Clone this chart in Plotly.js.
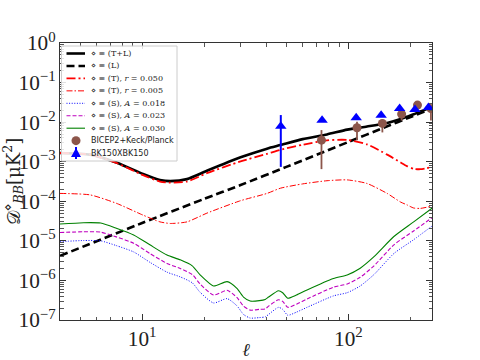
<!DOCTYPE html>
<html><head><meta charset="utf-8">
<script src="https://cdn.plot.ly/plotly-3.0.1.min.js"></script>
<style>html,body{margin:0;padding:0;background:#fff}#c{width:480px;height:360px}</style>
</head><body><div id="c"></div>
<script>
// ---- data ----
const ell_T = [4, 5.6, 7.5, 10.1, 12.2, 13.7, 16.5, 20.6, 30, 40.3, 46.8, 60, 78.7, 98.6, 123, 154, 179, 192, 207, 223, 255];
const D_total = [1.66e-3, 1.51e-3, 9.55e-4, 4.90e-4, 3.47e-4, 3.24e-4, 3.63e-4, 5.89e-4, 1.29e-3, 2.14e-3, 2.63e-3, 3.72e-3, 4.90e-3, 6.46e-3, 7.76e-3, 9.55e-3, 1.20e-2, 1.38e-2, 1.58e-2, 1.86e-2, 2.40e-2];
const D_T050 = [1.66e-3, 1.51e-3, 9.33e-4, 4.57e-4, 3.16e-4, 2.95e-4, 3.16e-4, 5.13e-4, 1.02e-3, 1.58e-3, 2.00e-3, 2.69e-3, 3.47e-3, 3.55e-3, 2.75e-3, 1.51e-3, 9.55e-4, 7.76e-4, 6.61e-4, 6.46e-4, 7.41e-4];
const D_T005 = [1.58e-4, 1.45e-4, 8.91e-5, 4.47e-5, 3.02e-5, 2.75e-5, 3.02e-5, 5.01e-5, 1.035e-4, 1.58e-4, 2.14e-4, 2.75e-4, 3.31e-4, 3.47e-4, 2.82e-4, 1.58e-4, 9.55e-5, 8.13e-5, 6.76e-5, 6.61e-5, 7.59e-5];

const ell_L = [4, 10, 20, 30, 50, 100, 150, 200, 255];
const D_lens = [4.17e-6, 2.82e-5, 1.15e-4, 2.57e-4, 7.41e-4, 3.16e-3, 7.41e-3, 1.35e-2, 2.24e-2];

const ell_S = [4, 5.2, 6.3, 7.5, 9.1, 10.9, 13.2, 15.3, 17.5, 19.1, 22.2, 25.8, 28.8, 31, 33.4, 37, 39.5, 41, 45.8, 48, 50.8, 56, 63, 84.6, 98.6, 114, 133, 166, 207, 255];
const D_A030 = [2.66e-5, 2.88e-5, 2.82e-5, 2.09e-5, 1.41e-5, 7.94e-6, 4.37e-6, 3.31e-6, 2.34e-6, 1.38e-6, 7.24e-7, 9.33e-7, 6.31e-7, 3.80e-7, 3.02e-7, 3.09e-7, 3.31e-7, 3.80e-7, 5.50e-7, 4.90e-7, 3.55e-7, 4.27e-7, 5.75e-7, 1.12e-6, 1.38e-6, 2.04e-6, 3.98e-6, 1.29e-5, 3.02e-5, 6.76e-5];
const D_A023 = [1.62e-5, 1.70e-5, 1.66e-5, 1.26e-5, 8.71e-6, 4.79e-6, 2.69e-6, 2.00e-6, 1.41e-6, 8.13e-7, 4.27e-7, 5.62e-7, 3.72e-7, 2.24e-7, 1.78e-7, 1.86e-7, 1.91e-7, 2.24e-7, 3.24e-7, 2.95e-7, 2.09e-7, 2.51e-7, 3.39e-7, 6.76e-7, 8.13e-7, 1.20e-6, 2.34e-6, 7.94e-6, 1.78e-5, 3.89e-5];
const D_A018 = [9.55e-6, 1.02e-5, 1.00e-5, 7.59e-6, 5.25e-6, 2.88e-6, 1.62e-6, 1.23e-6, 8.71e-7, 5.01e-7, 2.69e-7, 3.47e-7, 2.29e-7, 1.38e-7, 1.12e-7, 1.15e-7, 1.20e-7, 1.38e-7, 2.09e-7, 1.86e-7, 1.32e-7, 1.58e-7, 2.09e-7, 4.07e-7, 4.90e-7, 7.24e-7, 1.41e-6, 4.79e-6, 1.07e-5, 2.40e-5];

const ell_BK = [74, 110, 146, 181, 216, 251];
const D_BK = [3.5e-3, 7.2e-3, 9.3e-3, 1.6e-2, 2.7e-2, 2.2e-2];
const D_BK_hi = [6.3e-3, 1.02e-2, 1.17e-2, 2.0e-2, 3.0e-2, 2.45e-2];
const D_BK_lo = [6.5e-4, 3.5e-3, 5.5e-3, 1.1e-2, 2.3e-2, 1.1e-2];

const ell_150 = [47, 74.5, 109, 144, 177, 210, 244];
const D_150 = [7.9e-3, 1.12e-2, 1.3e-2, 1.5e-2, 2.2e-2, 2.1e-2, 2.36e-2];
const D_150_hi = [1.51e-2, 1.12e-2, 1.3e-2, 1.5e-2, 2.2e-2, 2.1e-2, 2.36e-2];
const D_150_lo = [7.4e-4, 1.12e-2, 1.3e-2, 1.5e-2, 2.2e-2, 2.1e-2, 2.36e-2];

const legendLabels = [
  "⋄ ≡ (T+L)", "⋄ ≡ (L)",
  "⋄ ≡ (T), <i>r</i> = 0.050", "⋄ ≡ (T), <i>r</i> = 0.005",
  "⋄ ≡ (S), <i>A</i> = 0.018", "⋄ ≡ (S), <i>A</i> = 0.023", "⋄ ≡ (S), <i>A</i> = 0.030",
  "BICEP2+Keck/Planck", "BK150XBK150"
];
const xTickAlias = {'10': '10<sup>1</sup>', '100': '10<sup>2</sup>'};
const yTickAlias = {'1': '10<sup>0</sup>', '0.1': '10<sup>−1</sup>', '0.01': '10<sup>−2</sup>', '0.001': '10<sup>−3</sup>'};

// ---- styles ----
const sty = {
  total: {color: '#000000', width: 2.6, dash: 'solid'},
  lens:  {color: '#000000', width: 2.6, dash: '8px,4px'},
  T050:  {color: '#ff0000', width: 1.8, dash: '9px,3px,2px,3px'},
  T005:  {color: '#ff0000', width: 1.0, dash: '6px,2px,1.5px,2px'},
  A018:  {color: '#0000ff', width: 1.0, dash: '1px,1.6px'},
  A023:  {color: '#bf00bf', width: 1.1, dash: '4px,2px'},
  A030:  {color: '#008000', width: 1.1, dash: 'solid'}
};
const brown = '#8c564b';

function line(x, y, s) {
  return {x: x, y: y, type: 'scatter', mode: 'lines', showlegend: false, hoverinfo: 'skip',
    line: {color: s.color, width: s.width, dash: s.dash, shape: 'spline', smoothing: 0.6}};
}
function diff(a, b) { return a.map((v, i) => v - b[i]); }

const traces = [
  line(ell_T, D_total, sty.total),
  line(ell_L, D_lens, sty.lens),
  line(ell_T, D_T050, sty.T050),
  line(ell_T, D_T005, sty.T005),
  line(ell_S, D_A018, sty.A018),
  line(ell_S, D_A023, sty.A023),
  line(ell_S, D_A030, sty.A030),
  {x: ell_BK, y: D_BK, type: 'scatter', mode: 'markers', showlegend: false,
   marker: {color: brown, size: 9, symbol: 'circle'},
   error_y: {type: 'data', symmetric: false, array: diff(D_BK_hi, D_BK), arrayminus: diff(D_BK, D_BK_lo),
     color: brown, thickness: 1.8, width: 0}},
  {x: ell_150, y: D_150, type: 'scatter', mode: 'markers', showlegend: false,
   marker: {color: '#0000ff', size: 10, symbol: 'triangle-up'},
   error_y: {type: 'data', symmetric: false, array: diff(D_150_hi, D_150), arrayminus: diff(D_150, D_150_lo),
     color: '#0000ff', thickness: 2, width: 0}}
];

// ---- hand-built legend (paper coords from pixel positions) ----
const L = 60, T = 43, W = 372, H = 277;
const px = v => (v - L) / W, py = v => 1 - (v - T) / H;
const shapes = [{type: 'rect', xref: 'paper', yref: 'paper', layer: 'above',
  x0: px(61.5), x1: px(177), y0: py(46), y1: py(161),
  fillcolor: 'rgba(255,255,255,0.85)', line: {color: '#cccccc', width: 1}}];
const annotations = [];
const legStyles = [sty.total, sty.lens, sty.T050, sty.T005, sty.A018, sty.A023, sty.A030];
legendLabels.forEach((lab, i) => {
  const yc = 53.5 + 12.45 * i;
  if (i < 7) {
    const s = legStyles[i];
    shapes.push({type: 'line', xref: 'paper', yref: 'paper', layer: 'above',
      x0: px(66.5), x1: px(85), y0: py(yc), y1: py(yc),
      line: {color: s.color, width: s.width, dash: s.dash}});
  } else if (i === 7) {
    shapes.push({type: 'circle', xref: 'paper', yref: 'paper', layer: 'above',
      x0: px(71.5), x1: px(80.5), y0: py(yc + 4.5), y1: py(yc - 4.5),
      fillcolor: brown, line: {color: brown, width: 0}});
  } else {
    shapes.push({type: 'line', xref: 'paper', yref: 'paper', layer: 'above',
      x0: px(76), x1: px(76), y0: py(yc + 6), y1: py(yc - 6), line: {color: '#0000ff', width: 2}});
    shapes.push({type: 'path', xref: 'paper', yref: 'paper', layer: 'above',
      path: 'M ' + px(71) + ' ' + py(yc + 4) + ' L ' + px(81) + ' ' + py(yc + 4) + ' L ' + px(76) + ' ' + py(yc - 5) + ' Z',
      fillcolor: '#0000ff', line: {color: '#0000ff', width: 0}});
  }
  annotations.push({xref: 'paper', yref: 'paper', x: px(89), y: py(yc), xanchor: 'left', yanchor: 'middle',
    showarrow: false, text: lab,
    font: {family: i >= 7 ? 'DejaVu Sans' : 'DejaVu Serif', size: 8, color: '#222'}});
});

const axFont = {family: 'Liberation Serif', size: 17, color: '#222'};
const layout = {
  width: 480, height: 360,
  margin: {l: 60, r: 48, t: 43, b: 40, pad: 0},
  paper_bgcolor: '#fff', plot_bgcolor: '#fff',
  showlegend: false,
  xaxis: {type: 'log', range: [Math.log10(4), Math.log10(254)], dtick: 1, tick0: 0,
    exponentformat: 'power', showexponent: 'all', labelalias: xTickAlias,
    showgrid: false, zeroline: false, showline: true, linecolor: '#333', linewidth: 1, mirror: 'allticks',
    ticks: 'inside', ticklen: 6, tickcolor: '#333', tickfont: axFont,
    minor: {dtick: 'D1', ticks: 'inside', ticklen: 3.5, tickcolor: '#555', showgrid: false},
    title: {text: '<i>ℓ</i>', font: {family: 'DejaVu Serif', size: 18, color: '#222'}, standoff: 4},
    automargin: false},
  yaxis: {type: 'log', range: [-7, 0], dtick: 1, tick0: 0,
    exponentformat: 'power', showexponent: 'all', labelalias: yTickAlias,
    showgrid: false, zeroline: false, showline: true, linecolor: '#333', linewidth: 1, mirror: 'allticks',
    ticks: 'inside', ticklen: 6, tickcolor: '#333', tickfont: axFont,
    minor: {dtick: 'D1', ticks: 'inside', ticklen: 3.5, tickcolor: '#555', showgrid: false},
    title: {text: '𝒟<sup>⋄</sup><sub><i>BB</i></sub>[μK<sup>2</sup>]', font: {family: 'DejaVu Serif', size: 18, color: '#222'}, standoff: 4},
    automargin: false},
  shapes: shapes,
  annotations: annotations
};
Plotly.newPlot('c', traces, layout, {staticPlot: true, displayModeBar: false});
</script></body></html>
